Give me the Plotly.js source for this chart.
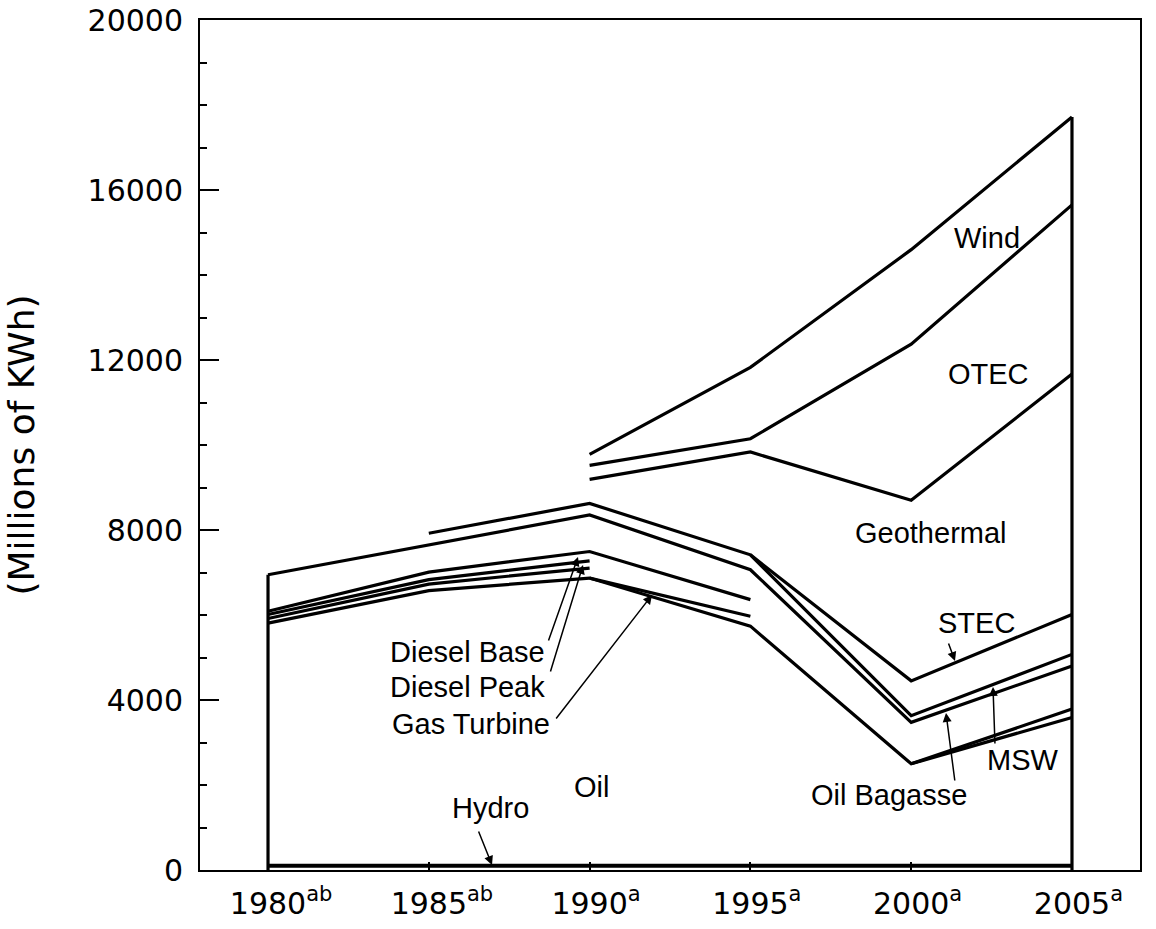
<!DOCTYPE html>
<html>
<head>
<meta charset="utf-8">
<script src="https://cdn.plot.ly/plotly-3.0.1.min.js"></script>
<style>
  html, body { margin: 0; padding: 0; background: #fff; }
  #chart { width: 1156px; height: 929px; }
</style>
</head>
<body>
<div id="chart"></div>
<script>
// ---- data (Millions of KWh, boundary lines of stacked bands) ----
const years = [1980, 1985, 1990, 1995, 2000, 2005];
const yearSup = ["ab", "ab", "a", "a", "a", "a"];

const hydro          = [100, 100, 100, 100, 100, 100];
const oilTop         = [5808, 6573, 6869, 5738, 2498, 3590];
const oilTop2        = [null, null, null, null, 2498, 3786];
const gasTurbineTop  = [5918, 6728, 7104, null, null, null];
const gasTurbine2    = [null, null, 6869, 5972, null, null];
const dieselPeakTop  = [6012, 6831, 7276, null, null, null];
const dieselBaseTop  = [6089, 7010, 7494, 6362, null, null];
const bagasseTop     = [6948, 7651, 8354, 7065, 3474, 4800];
const mswTop         = [null, 7923, 8626, 7416, 3630, 5074];
const stecTop        = [null, null, null, 7416, 4450, 6011];
const geothermalTop  = [null, null, 9192, 9836, 8700, 11670];
const otecTop        = [null, null, 9520, 10148, 12373, 15651];
const windTop        = [null, null, 9778, 11827, 14597, 17720];

const yTicks = [0, 4000, 8000, 12000, 16000, 20000];

// ---- traces ----
const LW = 3.2;
function line(y, w) {
  return { x: years, y: y, type: 'scatter', mode: 'lines', connectgaps: false,
           line: { color: '#000', width: w || LW }, hoverinfo: 'skip', showlegend: false };
}
const traces = [
  line(hydro, 4),
  line(oilTop), line(oilTop2),
  line(gasTurbineTop), line(gasTurbine2),
  line(dieselPeakTop), line(dieselBaseTop),
  line(bagasseTop), line(mswTop), line(stecTop),
  line(geothermalTop), line(otecTop), line(windTop),
  // closing verticals at the first and last year
  { x: [years[0], years[0]], y: [0, bagasseTop[0]], type: 'scatter', mode: 'lines',
    line: { color: '#000', width: LW }, hoverinfo: 'skip', showlegend: false },
  { x: [years[5], years[5]], y: [0, windTop[5]], type: 'scatter', mode: 'lines',
    line: { color: '#000', width: LW }, hoverinfo: 'skip', showlegend: false }
];

const tickText = years.map((yr, i) =>
  `<span style="color:rgba(0,0,0,0)"><sup>${yearSup[i]}</sup></span>${yr}<sup>${yearSup[i]}</sup>`);

// pixel helpers for annotation placement (plot area 200..1140 x 20..870)
const X0 = 1977.885, X1 = 2007.115, PL = 200, PR = 1140, PT = 20, PB = 870;
const YMAX = 20000;
const px2x = p => X0 + (p - PL) * (X1 - X0) / (PR - PL);
const px2y = p => (PB - p) * YMAX / (PB - PT);

const TF = { family: 'Liberation Sans, Arial, sans-serif', size: 29, color: '#000' };
function label(text, px, py) {
  return { x: px2x(px), y: px2y(py), xref: 'x', yref: 'y', text: text, showarrow: false,
           font: TF, xanchor: 'center', yanchor: 'middle' };
}
function arrow(hx, hy, tx, ty) {
  return { x: px2x(hx), y: px2y(hy), xref: 'x', yref: 'y', text: '', showarrow: true,
           ax: tx - hx, ay: ty - hy, arrowhead: 2, arrowsize: 1.2, arrowwidth: 1.5,
           arrowcolor: '#000', standoff: 0 };
}

const annotations = [
  label('Wind', 987, 238),
  label('OTEC', 988, 374),
  label('Geothermal', 931, 533),
  label('STEC', 976, 623),
  label('MSW', 1023, 760),
  label('Oil Bagasse', 889, 795),
  label('Oil', 591, 787),
  label('Hydro', 490, 808),
  label('Diesel Base', 467, 652),
  label('Diesel Peak', 467, 687),
  label('Gas Turbine', 471, 724),
  arrow(492, 865, 478, 830),
  arrow(955, 661, 948, 642),
  arrow(993, 687, 995, 745),
  arrow(946, 713, 955, 782),
  arrow(578, 557, 548, 642),
  arrow(583, 565, 550, 673),
  arrow(652, 595, 555, 720)
];

const layout = {
  width: 1156, height: 929,
  margin: { l: PL, r: 1156 - PR, t: PT, b: 929 - PB },
  paper_bgcolor: '#fff', plot_bgcolor: '#fff',
  showlegend: false,
  font: { family: 'DejaVu Sans, sans-serif', color: '#000' },
  xaxis: {
    range: [X0, X1], showgrid: false, zeroline: false,
    showline: true, mirror: true, linecolor: '#000', linewidth: 2,
    tickmode: 'array', tickvals: years, ticktext: tickText,
    ticks: 'inside', ticklen: 8, tickwidth: 2, tickcolor: '#000',
    tickfont: { family: 'DejaVu Sans, sans-serif', size: 30, color: '#000' },
    ticklabelstandoff: 6
  },
  yaxis: {
    range: [0, YMAX + 1], showgrid: false, zeroline: false,
    showline: true, mirror: true, linecolor: '#000', linewidth: 2,
    tickmode: 'array', tickvals: yTicks, ticktext: yTicks.map(String),
    ticks: 'inside', ticklen: 19, tickwidth: 2, tickcolor: '#000',
    minor: { dtick: 1000, ticks: 'inside', ticklen: 7, tickwidth: 2, tickcolor: '#000', showgrid: false },
    tickfont: { family: 'DejaVu Sans, sans-serif', size: 30, color: '#000' },
    ticklabelstandoff: 9,
    ticklabeloverflow: 'allow',
    title: { text: '(Millions of KWh)', standoff: 42,
             font: { family: 'DejaVu Sans, sans-serif', size: 36, color: '#000' } }
  },
  annotations: annotations
};

Plotly.newPlot('chart', traces, layout, { staticPlot: true, displayModeBar: false });
</script>
</body>
</html>
